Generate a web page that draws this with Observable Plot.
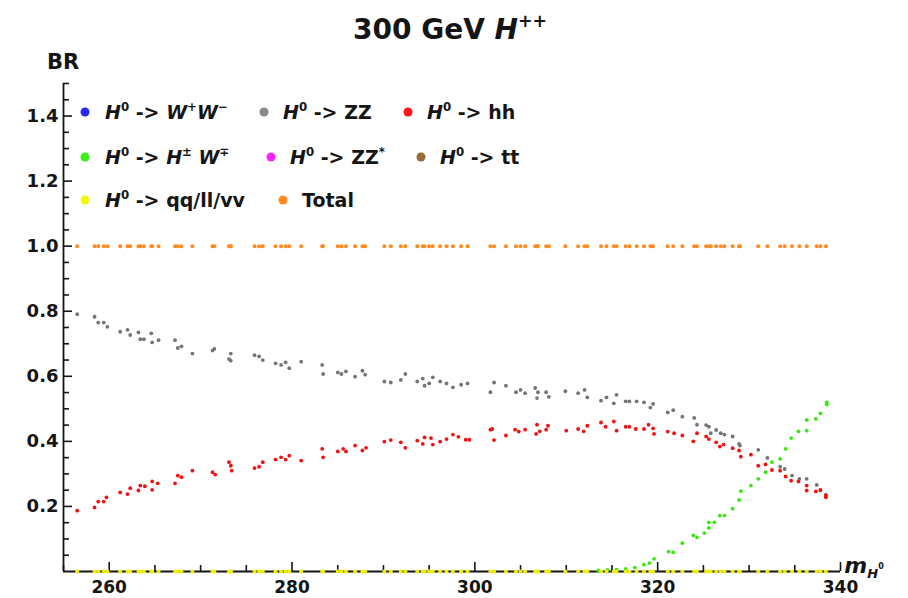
<!DOCTYPE html>
<html><head><meta charset="utf-8">
<script src="https://cdn.jsdelivr.net/npm/d3@7"></script>
<script src="https://cdn.jsdelivr.net/npm/@observablehq/plot@0.6"></script>
<style>
body{margin:0;background:#fff;}
#wrap{position:relative;width:908px;height:598px;overflow:hidden;}
</style></head><body><div id="wrap"></div>
<script>
// ---- data ----
const mH_ZZ = [256.5,258.4,258.8,259.4,259.8,261.2,262.0,262.3,263.2,263.4,263.8,264.6,264.7,265.4,267.2,267.5,267.9,269.1,271.3,271.5,273.1,273.3,273.3,275.9,276.4,276.8,278.2,278.8,279.3,279.7,281.0,283.3,283.4,285.0,285.4,285.9,286.9,287.7,288.0,290.1,290.8,291.9,292.4,293.7,294.3,294.5,295.0,295.4,296.2,296.9,297.6,298.5,299.2,301.7,302.1,303.4,304.5,305.0,305.5,306.6,306.9,306.8,307.8,308.1,309.9,311.3,312.0,312.3,313.8,314.4,315.2,315.5,316.5,316.9,317.7,318.5,319.2,319.5,321.1,321.7,322.7,324.0,324.3,325.3,325.6,325.8,326.4,326.9,327.3,328.2,328.9,329.0,331.0,332.0,333.4,333.9,334.7,335.5,336.3,337.4,337.8,338.4];
const br_ZZ = [0.791,0.783,0.765,0.765,0.752,0.737,0.743,0.727,0.735,0.714,0.714,0.732,0.704,0.711,0.711,0.687,0.692,0.670,0.679,0.684,0.653,0.670,0.648,0.665,0.661,0.650,0.640,0.635,0.643,0.625,0.645,0.635,0.607,0.612,0.607,0.615,0.599,0.617,0.605,0.584,0.581,0.589,0.607,0.584,0.593,0.571,0.578,0.597,0.584,0.578,0.566,0.574,0.578,0.551,0.581,0.571,0.551,0.558,0.548,0.564,0.551,0.533,0.551,0.537,0.554,0.548,0.558,0.535,0.525,0.535,0.517,0.543,0.523,0.523,0.523,0.520,0.504,0.515,0.489,0.496,0.476,0.472,0.451,0.450,0.445,0.425,0.435,0.425,0.421,0.415,0.392,0.387,0.374,0.349,0.322,0.315,0.295,0.285,0.285,0.266,0.249,0.236];

const mH_hh = [256.5,258.4,258.8,259.4,259.7,261.2,262.0,262.3,263.2,263.4,263.9,264.7,264.7,265.3,267.2,267.5,267.9,269.1,271.3,271.6,273.1,273.3,273.4,275.9,276.4,276.8,278.2,278.8,279.3,279.7,281.0,283.3,283.4,285.0,285.6,285.9,286.9,287.7,288.1,290.1,290.8,291.9,292.4,293.7,294.3,294.5,295.2,295.4,296.2,296.9,297.6,298.2,299.0,299.4,301.7,301.9,302.1,303.4,304.4,304.8,305.5,306.7,306.8,307.1,307.8,308.0,310.0,311.3,311.9,312.3,313.8,314.3,315.2,315.5,316.5,316.9,317.6,318.5,319.0,319.5,319.6,321.1,321.8,322.7,323.9,324.3,325.3,325.6,326.4,326.8,327.2,328.2,328.9,329.1,330.2,331.0,331.8,332.5,333.4,334.0,334.6,335.4,336.3,336.3,337.3,337.8,338.4,338.4];
const br_hh = [0.187,0.197,0.215,0.215,0.228,0.243,0.238,0.256,0.249,0.264,0.262,0.251,0.277,0.271,0.271,0.295,0.290,0.310,0.305,0.298,0.336,0.325,0.310,0.318,0.322,0.336,0.344,0.351,0.344,0.356,0.341,0.377,0.351,0.369,0.377,0.369,0.387,0.372,0.380,0.399,0.404,0.397,0.380,0.402,0.392,0.412,0.410,0.390,0.399,0.407,0.421,0.414,0.405,0.405,0.436,0.438,0.404,0.418,0.436,0.430,0.436,0.423,0.451,0.431,0.436,0.448,0.433,0.438,0.431,0.448,0.458,0.445,0.461,0.433,0.445,0.445,0.438,0.438,0.451,0.440,0.423,0.430,0.425,0.418,0.400,0.425,0.415,0.407,0.397,0.384,0.390,0.379,0.372,0.353,0.359,0.325,0.329,0.312,0.310,0.292,0.279,0.277,0.264,0.249,0.246,0.251,0.233,0.228];

const mH_HW = [313.5,314.5,315.5,316.5,317.5,318.5,319.1,319.6,321.2,321.7,322.7,323.9,324.3,325.1,325.6,325.6,326.2,326.8,327.3,328.2,328.9,329.1,330.2,331.0,331.8,332.5,333.4,334.0,334.6,335.4,336.3,336.3,337.3,337.8,338.5,338.5];
const br_HW = [0.003,0.005,0.006,0.008,0.012,0.021,0.026,0.039,0.061,0.059,0.087,0.111,0.105,0.118,0.134,0.151,0.151,0.172,0.172,0.193,0.220,0.247,0.264,0.285,0.305,0.336,0.346,0.377,0.410,0.431,0.433,0.466,0.469,0.486,0.513,0.520];

const br_total = 1.0;   // Total at every scanned mass
const br_qq = 0.0;      // qq/ll/vv at every scanned mass

const xTicks = [260, 280, 300, 320, 340];
const xMinor = [255, 265, 270, 275, 285, 290, 295, 305, 310, 315, 325, 330, 335];
const yTicks = [0.2, 0.4, 0.6, 0.8, 1.0, 1.2, 1.4];
const yMinor = [0.05,0.1,0.15,0.25,0.3,0.35,0.45,0.5,0.55,0.65,0.7,0.75,0.85,0.9,0.95,1.05,1.1,1.15,1.25,1.3,1.35,1.45,1.5];

const legendItems = [
  {color:"#2727ff", segs:[["H","i"],["0","sup"],[" -> "],["W","i"],["+","sup"],["W","i"],["\u2212","sup"]]},
  {color:"#8a8a8a", segs:[["H","i"],["0","sup"],[" -> ZZ"]]},
  {color:"#ff1515", segs:[["H","i"],["0","sup"],[" -> hh"]]},
  {color:"#3cf01a", segs:[["H","i"],["0","sup"],[" -> "],["H","i"],["\u00b1","sup"],[" "],["W","i"],["\u2213","sup"]]},
  {color:"#ff22ff", segs:[["H","i"],["0","sup"],[" -> ZZ"],["*","sup"]]},
  {color:"#9a6a3a", segs:[["H","i"],["0","sup"],[" -> tt"]]},
  {color:"#f8f800", segs:[["H","i"],["0","sup"],[" -> qq/ll/vv"]]},
  {color:"#ff8a1f", segs:[["Total"]]}
];

// ---- build tables ----
const zz = mH_ZZ.map((m,i)=>({m, br: br_ZZ[i]}));
const hh = mH_hh.map((m,i)=>({m, br: br_hh[i]}));
const hw = mH_HW.map((m,i)=>({m, br: br_HW[i]}));
const qq = mH_ZZ.map(m=>({m, br: br_qq}));
const tot = mH_ZZ.map(m=>({m, br: br_total}));

const font = "DejaVu Sans, sans-serif";
const chart = Plot.plot({
  width: 908, height: 598,
  marginLeft: 63, marginRight: 68, marginTop: 83, marginBottom: 27,
  x: {domain: [255, 340]},
  y: {domain: [0, 1.5]},
  style: {fontFamily: font, fontWeight: "bold", fontSize: "17px", color: "#151515", background: "#fff", overflow: "visible"},
  marks: [
    Plot.axisY({ticks: yTicks, tickSize: 0, tickPadding: 5, tickFormat: d3.format(".1f"), label: null, fontSize: 18}),
    Plot.axisX({ticks: xTicks, tickSize: 0, tickPadding: 9, label: null}),
    Plot.tickY(yTicks, {y: d=>d, insetRight: 777-9, stroke: "#151515", strokeWidth: 1.6}),
    Plot.tickY(yMinor, {y: d=>d, insetRight: 777-6, stroke: "#151515", strokeWidth: 1.6}),
    Plot.tickX(xTicks, {x: d=>d, insetTop: 488-9, stroke: "#151515", strokeWidth: 1.6}),
    Plot.tickX(xMinor, {x: d=>d, insetTop: 488-6, stroke: "#151515", strokeWidth: 1.6}),
    Plot.ruleX([255], {stroke: "#151515", strokeWidth: 1.8}),
    Plot.ruleY([0], {stroke: "#151515", strokeWidth: 1.8}),
    Plot.dot(zz, {x: "m", y: "br", r: 1.9, fill: "#747474"}),
    Plot.dot(hh, {x: "m", y: "br", r: 1.9, fill: "#f21010"}),
    Plot.dot(hw, {x: "m", y: "br", r: 1.9, fill: "#3ae810"}),
    Plot.dot(qq, {x: "m", y: "br", r: 2, fill: "#f0f000"}),
    Plot.dot(tot, {x: "m", y: "br", r: 2, fill: "#ff8a1f"})
  ]
});
document.getElementById("wrap").appendChild(chart);

// ---- text overlays (title, axis names, legend) ----
const svg = d3.select(chart);
const g = svg.append("g").attr("font-family", font).attr("font-weight", "bold").attr("fill", "#151515").style("white-space", "pre");
function rich(x, y, size, segs, anchor) {
  const t = g.append("text").attr("x", x).attr("y", y).attr("font-size", size).attr("text-anchor", anchor || "start");
  let cur = 0;
  for (const [txt, kind] of segs) {
    const target = kind === "sup" ? -0.42*size : kind === "sub" ? 0.22*size : 0;
    const sz = (kind === "sup" || kind === "sub") ? size*0.62 : size;
    const ital = kind === "i";
    t.append("tspan").attr("dy", target - cur).attr("font-size", sz).attr("font-style", ital ? "italic" : "normal").text(txt);
    cur = target;
  }
  return t;
}
rich(353, 39, 28, [["300 GeV "],["H","i"],["++","sup"]]);
rich(47, 69, 21, [["BR"]]);
// x-axis name m_{H^0}
const xl = g.append("text").attr("x", 864).attr("y", 573).attr("font-style", "italic");
xl.append("tspan").attr("font-size", 22).text("m");
xl.append("tspan").attr("font-size", 13).attr("dy", 5).text("H");
xl.append("tspan").attr("font-size", 8).attr("font-style", "normal").attr("dy", -9).text("0");

const legPos = [
  {dx: 85, tx: 105, y: 112}, {dx: 264, tx: 283, y: 112}, {dx: 408, tx: 427, y: 112},
  {dx: 85, tx: 105, y: 157}, {dx: 271, tx: 290, y: 157}, {dx: 421, tx: 440, y: 157},
  {dx: 85, tx: 105, y: 200}, {dx: 283, tx: 302, y: 200}
];
legendItems.forEach((it, i) => {
  const p = legPos[i];
  g.append("circle").attr("cx", p.dx).attr("cy", p.y).attr("r", 4.5).attr("fill", it.color);
  rich(p.tx, p.y + 6.5, 19, it.segs);
});
</script></body></html>
